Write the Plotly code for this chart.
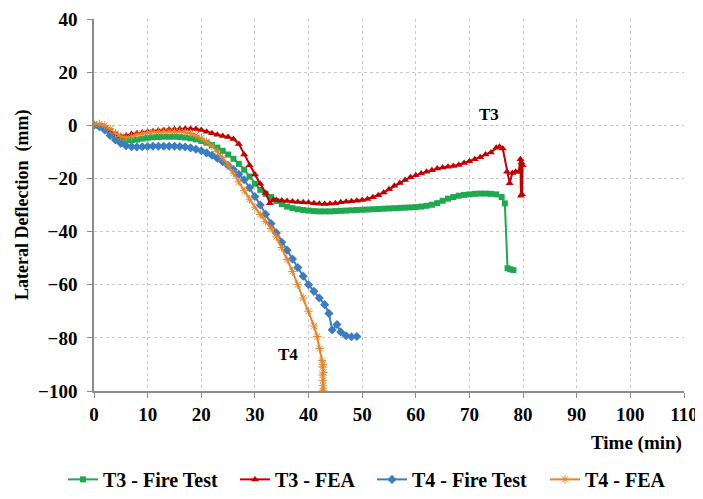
import plotly.graph_objects as go

# T3 - Fire Test
t3_test_t = [0, 1, 2, 3, 4, 5, 6, 7, 8, 9, 10, 11, 12, 13, 14, 15, 16, 17, 18, 19,
             20, 21, 22, 23, 24, 25, 26, 27, 28, 29, 30, 31, 32, 33, 34, 35, 36, 37, 38, 39,
             40, 41, 42, 43, 44, 45, 46, 47, 48, 49, 50, 51, 52, 53, 54, 55, 56, 57, 58, 59,
             60, 61, 62, 63, 64, 65, 66, 67, 68, 69, 70, 71, 72, 73, 74, 75, 76, 76.6, 77.1, 77.6, 78.2]
t3_test_d = [0, -0.3, -1, -2.2, -3.5, -4.7, -5.5, -5.6, -5.4, -5, -4.7, -4.5, -4.4, -4.3, -4.3, -4.3, -4.4, -4.6, -4.9, -5.3,
             -5.9, -6.6, -7.4, -8.4, -9.6, -11, -12.6, -14.5, -16.7, -19.3, -22, -24.3, -25.8, -27, -28.5, -29.7, -30.6, -31.2, -31.6, -31.9,
             -32.1, -32.3, -32.4, -32.4, -32.4, -32.3, -32.2, -32.1, -32, -31.9, -31.8, -31.7, -31.6, -31.5, -31.4, -31.3, -31.2, -31.1, -31, -30.9,
             -30.8, -30.6, -30.3, -29.9, -29.3, -28.4, -27.6, -27, -26.5, -26.2, -26, -25.8, -25.7, -25.7, -25.8, -26, -27, -29.4, -53.8, -54.2, -54.5]

# T3 - FEA
t3_fea_t = [0, 1, 2, 3, 4, 5, 6, 7, 8, 9, 10, 11, 12, 13, 14, 15, 16, 17, 18, 19,
            20, 21, 22, 23, 24, 25, 26, 27, 28, 29, 30, 31, 32, 32.8, 33.5, 34, 35, 36, 37, 38, 39,
            40, 41, 42, 43, 44, 45, 46, 47, 48, 49, 50, 51, 52, 53, 54, 55, 56, 57, 58, 59,
            60, 61, 62, 63, 64, 65, 66, 67, 68, 69, 70, 71, 72, 73, 74, 75, 75.6, 76.2, 77, 77.5, 78, 78.6, 79.2,
            79.5, 79.6, 79.7, 79.8, 79.9]
t3_fea_d = [0, -0.3, -1.2, -2.4, -3.5, -4.2, -3.8, -3.3, -3, -2.7, -2.4, -2.2, -2, -1.8, -1.6, -1.5, -1.4, -1.3, -1.3, -1.4,
            -1.8, -2.4, -3, -3.6, -4, -4.4, -5.2, -7, -11, -15, -18.5, -22, -25.5, -29.3, -28, -28.1, -28.3, -28.5, -28.7, -28.9, -29,
            -29.1, -29.3, -29.5, -29.6, -29.5, -29.3, -29, -28.8, -28.6, -28.4, -28.1, -27.7, -27.1, -26.3, -25.3, -24.1, -22.8, -21.7, -20.6, -19.6,
            -18.8, -18.1, -17.5, -16.9, -16.3, -15.9, -15.6, -15.3, -14.9, -14.2, -13.5, -12.8, -12, -11, -10.2, -8.5, -8.1, -8.7, -17.5, -21.8, -18, -17.5, -17.5,
            -12.8, -26.5, -14, -26, -15]

# T4 - Fire Test
t4_test_t = [0, 1, 2, 3, 4, 5, 6, 7, 8, 9, 10, 11, 12, 13, 14, 15, 16, 17, 18, 19,
             20, 21, 22, 23, 24, 25, 26, 27, 28, 29, 30, 31, 32, 33, 34, 35, 36, 37, 38, 39,
             40, 41, 42, 43, 43.8, 44.4, 45.3, 46, 47, 48, 49]
t4_test_d = [0, -0.5, -1.8, -3.8, -5.5, -6.8, -7.7, -8.1, -8.2, -8.1, -8, -7.9, -7.9, -7.9, -7.9, -7.9, -8, -8.2, -8.5, -9,
             -9.6, -10.4, -11.3, -12.4, -13.7, -15.1, -16.7, -18.4, -20.5, -23.5, -26.8, -30, -33.5, -37, -40.5, -44, -47, -50.3, -53.5, -56.8,
             -60, -62.5, -65, -67.5, -70.8, -77, -75, -77.8, -79.2, -79.6, -79.5]

# T4 - FEA
t4_fea_t = [0, 1, 2, 3, 4, 5, 6, 7, 8, 9, 10, 11, 12, 13, 14, 15, 16, 17, 18, 19,
            20, 21, 22, 23, 24, 25, 26, 27, 28, 29, 30, 31, 32, 33, 34, 35, 36, 37, 38, 39,
            40, 41, 41.6, 42.1, 42.5, 42.6, 42.7, 42.6, 42.8, 42.7, 42.6, 42.8, 42.7]
t4_fea_d = [0.5, 0.5, 0, -1.3, -3, -4.2, -4.6, -4.2, -3.5, -3, -2.7, -2.5, -2.4, -2.3, -2.3, -2.3, -2.4, -2.6, -3, -3.7,
            -4.8, -6.2, -7.8, -9.8, -12.2, -15, -18, -21.3, -24.6, -27.8, -30.8, -33.6, -36.2, -38.8, -42, -46, -50.5, -55, -60, -65,
            -70, -75.5, -79.5, -84, -88.5, -91, -96, -100, -93, -98, -94, -100, -90]

x_ticks = [0, 10, 20, 30, 40, 50, 60, 70, 80, 90, 100, 110]
y_ticks = [-100, -80, -60, -40, -20, 0, 20, 40]

FONT = "Liberation Serif"
GREEN = "#1EA84F"
RED = "#C00000"
BLUE = "#3B7DC0"
ORANGE = "#E8852B"

fig = go.Figure()
fig.add_trace(go.Scatter(x=t3_test_t, y=t3_test_d, name="T3 - Fire Test", mode="lines+markers",
                         line=dict(color=GREEN, width=2), legendwidth=127,
                         marker=dict(symbol="square", size=6, color=GREEN)))
fig.add_trace(go.Scatter(x=t3_fea_t, y=t3_fea_d, name="T3 - FEA", mode="lines+markers",
                         line=dict(color=RED, width=2), legendwidth=92,
                         marker=dict(symbol="triangle-up", size=7, color=RED)))
fig.add_trace(go.Scatter(x=t4_test_t, y=t4_test_d, name="T4 - Fire Test", mode="lines+markers",
                         line=dict(color=BLUE, width=2), legendwidth=128,
                         marker=dict(symbol="diamond", size=7, color=BLUE)))
fig.add_trace(go.Scatter(x=t4_fea_t, y=t4_fea_d, name="T4 - FEA", mode="lines+markers",
                         line=dict(color=ORANGE, width=2), legendwidth=90,
                         marker=dict(symbol="asterisk-open", size=7, color=ORANGE,
                                     line=dict(color=ORANGE, width=1))))

fig.add_annotation(x=73.6, y=4.2, text="T3", showarrow=False, xref="x", yref="y",
                   font=dict(family=FONT, size=17, color="black", weight="bold"))
fig.add_annotation(x=36.2, y=-86.4, text="T4", showarrow=False, xref="x", yref="y",
                   font=dict(family=FONT, size=17, color="black", weight="bold"))
fig.add_annotation(x=1.0, y=-0.14, text="Time (min)", showarrow=False, xref="paper", yref="paper",
                   xanchor="right", yanchor="middle",
                   font=dict(family=FONT, size=19, color="black", weight="bold"))
fig.add_annotation(x=-0.122, y=0.5, text="Lateral Deflection  (mm)", showarrow=False,
                   xref="paper", yref="paper", textangle=-90, xanchor="center", yanchor="middle",
                   font=dict(family=FONT, size=18, color="black", weight="bold"))

axis_common = dict(showgrid=True, gridcolor="#C8C8C8", griddash="dot", gridwidth=1,
                   zeroline=False, showline=True, linecolor="#8C8C8C", linewidth=1.5,
                   ticks="outside", ticklen=5, tickcolor="#8C8C8C", automargin=False,
                   ticklabeloverflow="allow",
                   tickfont=dict(family=FONT, size=19, color="black", weight="bold"))

fig.update_xaxes(range=[0, 110], tickvals=x_ticks, **axis_common)
fig.update_yaxes(range=[-100, 40], tickvals=y_ticks, ticklabelstandoff=6, **axis_common)

# page body adds an 8px offset; figure sized so the plot area lands at about x 94-684, y 19-391
fig.update_layout(
    width=695, height=491,
    margin=dict(l=86, r=19, t=11, b=108, autoexpand=False),
    plot_bgcolor="white", paper_bgcolor="white",
    showlegend=True,
    legend=dict(orientation="h", x=(63 - 94) / 590, xanchor="left", y=-0.29, yanchor="bottom",
                font=dict(family=FONT, size=20, color="black", weight="bold"),
                itemwidth=30),
)

fig.write_html("out.html")
